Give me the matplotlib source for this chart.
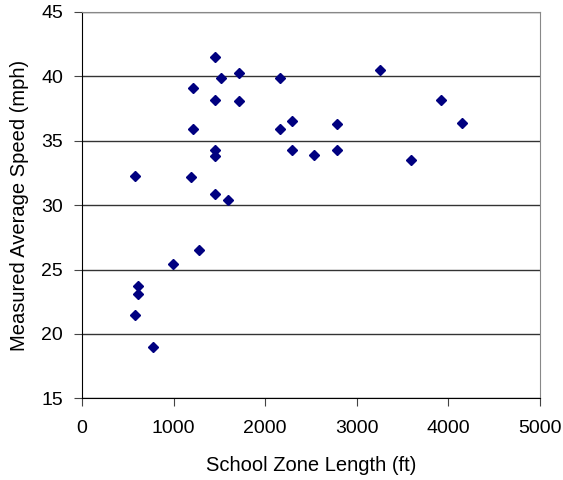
import matplotlib.pyplot as plt

# === Data ===
zone_length = [1449, 1515, 1715, 2157, 1215, 1449, 1715, 1215, 2157, 2289,
               1449, 1449, 2289, 2537, 584, 1186, 1449, 1599, 1277, 997,
               613, 613, 584, 777, 3256, 3917, 2785, 4151, 2785, 3596]
avg_speed = [41.5, 39.9, 40.3, 39.9, 39.1, 38.2, 38.1, 35.9, 35.9, 36.5,
             34.3, 33.8, 34.3, 33.9, 32.3, 32.2, 30.9, 30.4, 26.5, 25.4,
             23.75, 23.1, 21.5, 19.0, 40.5, 38.2, 36.3, 36.4, 34.3, 33.5]

x_ticks = [0, 1000, 2000, 3000, 4000, 5000]
y_ticks = [15, 20, 25, 30, 35, 40, 45]

plt.rcParams["font.family"] = ["Liberation Sans", "DejaVu Sans"]

fig = plt.figure(figsize=(5.63, 4.8), dpi=100)
ax = fig.add_axes([0.1456, 0.170, 0.8135, 0.805])

ax.plot(zone_length, avg_speed, linestyle="none", marker="D",
        markersize=5.6, color="#000080", zorder=3)

ax.set_xlim(0, 5000)
ax.set_ylim(15, 45)
ax.set_xticks(x_ticks)
ax.set_yticks(y_ticks)
ax.yaxis.grid(True, color="#333333", linewidth=1.0)
ax.set_axisbelow(True)

for side in ["top", "right"]:
    ax.spines[side].set_color("#888888")
for side in ["left", "bottom"]:
    ax.spines[side].set_color("black")

ax.tick_params(axis="both", direction="out", length=5.5, labelsize=14,
               color="#444444")
ax.tick_params(axis="y", pad=8)
ax.tick_params(axis="x", pad=10)
ax.set_xlabel("School Zone Length (ft)", fontsize=14.5, labelpad=14)
ax.set_ylabel("Measured Average Speed (mph)", fontsize=14.5, labelpad=9)

fig.savefig("out.png", dpi=100)
